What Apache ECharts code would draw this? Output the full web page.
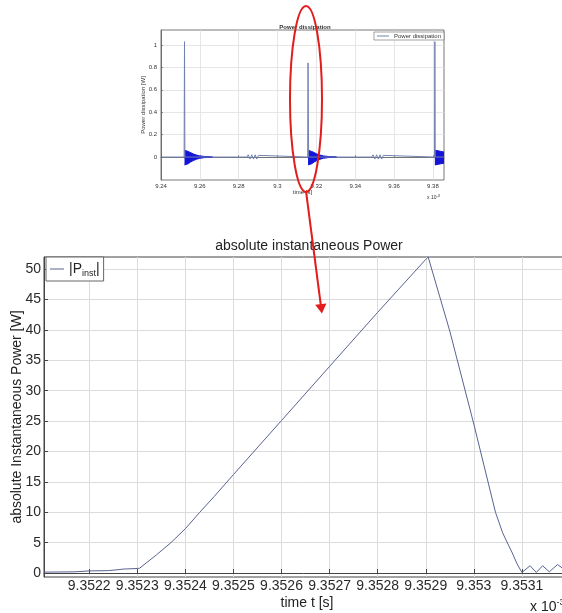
<!DOCTYPE html>
<html>
<head>
<meta charset="utf-8">
<script src="https://cdn.jsdelivr.net/npm/echarts@6/dist/echarts.min.js"></script>
<style>
  html, body { margin: 0; padding: 0; background: #ffffff; }
  #chart { width: 562px; height: 613px; }
</style>
</head>
<body>
<div id="chart"></div>
<script>
// ---- zoomed switching event: |P_inst| (W) against time (ms) ----
const mainTime = [
  9.352106, 9.35217, 9.3522, 9.35224, 9.35226, 9.35227, 9.3523, 9.352305,
  9.35234, 9.35237, 9.3524, 9.35243, 9.35246, 9.3525, 9.3526, 9.3527,
  9.3528, 9.3529, 9.352905, 9.35295, 9.3530, 9.353045, 9.35306, 9.353072,
  9.35308, 9.35309, 9.3531, 9.353117, 9.35313, 9.353143, 9.353157, 9.353174,
  9.353188, 9.3532
];
const mainPower = [
  0.15, 0.2, 0.35, 0.4, 0.55, 0.65, 0.75, 0.8,
  3.0, 5.0, 7.3, 10.0, 12.6, 16.2, 25.1, 34.0,
  42.9, 51.6, 52.0, 39.8, 24.5, 10.0, 6.6, 4.6,
  3.3, 1.5, 0.1, 1.2, 0.1, 1.2, 0.2, 1.4,
  0.6, 0.9
];
const mainXTicks = [9.3522, 9.3523, 9.3524, 9.3525, 9.3526, 9.3527, 9.3528, 9.3529, 9.353, 9.3531];
const mainYTicks = [0, 5, 10, 15, 20, 25, 30, 35, 40, 45, 50];

// ---- overview: power dissipation over three switching periods ----
const insetTime = [
  9.24, 9.2519, 9.2521, 9.2523, 9.2842, 9.2849, 9.2858, 9.2867, 9.2876, 9.2885, 9.2893, 9.2902, 9.2911,
  9.3155, 9.3157, 9.3160, 9.3485, 9.3492, 9.3501, 9.3510, 9.3519, 9.3528, 9.3536, 9.3545, 9.3553,
  9.3808, 9.3810, 9.3812, 9.3857
];
const insetPower = [
  0, 0, 1.03, 0, 0, 0.02, -0.018, 0.02, -0.018, 0.02, -0.018, 0.015, 0,
  0, 0.84, 0, 0, 0.02, -0.018, 0.02, -0.018, 0.02, -0.018, 0.015, 0,
  0, 1.03, 0, 0
];
// decaying ringing after each turn-off: upper / lower envelope
const ringTimeA = [9.2521, 9.2528, 9.2540, 9.2552, 9.2566, 9.2582, 9.2600, 9.2625, 9.2665];
const ringTimeB = [9.3157, 9.3164, 9.3176, 9.3188, 9.3202, 9.3218, 9.3236, 9.3261, 9.3304];
const ringTimeC = [9.3810, 9.3817, 9.3829, 9.3841, 9.3857];
const ringUpperA = [0.06, 0.06, 0.05, 0.04, 0.028, 0.018, 0.01, 0.005, 0.002];
const ringLowerA = [-0.07, -0.07, -0.06, -0.045, -0.032, -0.02, -0.011, -0.005, -0.002];
const ringUpperB = [0.06, 0.06, 0.05, 0.04, 0.028, 0.018, 0.01, 0.005, 0.002];
const ringLowerB = [-0.07, -0.07, -0.06, -0.045, -0.032, -0.02, -0.011, -0.005, -0.002];
const ringUpperC = [0.06, 0.06, 0.055, 0.05, 0.045];
const ringLowerC = [-0.07, -0.07, -0.065, -0.06, -0.055];
const insetXTicks = [9.24, 9.26, 9.28, 9.3, 9.32, 9.34, 9.36, 9.38];
const insetYTicks = [0, 0.2, 0.4, 0.6, 0.8, 1];

const FONT = "'Liberation Sans', Arial, sans-serif";
const pairs = (xs, ys) => xs.map((x, i) => [x, ys[i]]);

const ringSets = [
  [ringTimeA, ringUpperA], [ringTimeA, ringLowerA],
  [ringTimeB, ringUpperB], [ringTimeB, ringLowerB],
  [ringTimeC, ringUpperC], [ringTimeC, ringLowerC]
];
const ringSeries = ringSets.map(([t, v]) => ({
  name: 'ringing',
  type: 'line',
  xAxisIndex: 1, yAxisIndex: 1,
  data: pairs(t, v),
  symbol: 'none',
  lineStyle: { color: '#1414d8', width: 1 },
  areaStyle: { color: '#1414d8', opacity: 1 },
  z: 3
}));

const chart = echarts.init(document.getElementById('chart'), null, { renderer: 'canvas' });

chart.setOption({
  animation: false,
  backgroundColor: '#ffffff',
  textStyle: { fontFamily: FONT },
  title: [
    {
      text: 'Power dissipation',
      left: 300, top: 19, textAlign: 'center',
      textStyle: { fontSize: 6, fontWeight: 'bold', color: '#333', fontFamily: FONT }
    },
    {
      text: 'absolute instantaneous Power',
      left: 304, top: 234, textAlign: 'center',
      textStyle: { fontSize: 14, fontWeight: 'normal', color: '#222', fontFamily: FONT }
    }
  ],
  legend: [
    {
      data: ['Pinst'],
      left: 46, top: 257,
      orient: 'vertical',
      padding: [4, 4, 3, 4],
      itemWidth: 14, itemHeight: 1, itemGap: 0,
      icon: 'rect',
      backgroundColor: '#ffffff',
      borderColor: '#666', borderWidth: 1,
      formatter: () => '{n||P}{s|inst}{n||}',
      textStyle: {
        color: '#222', fontFamily: FONT,
        rich: {
          n: { fontSize: 14, lineHeight: 18, verticalAlign: 'middle', fontFamily: FONT, color: '#222' },
          s: { fontSize: 9, lineHeight: 18, verticalAlign: 'bottom', padding: [8, 0, 0, 0], fontFamily: FONT, color: '#222' }
        }
      }
    },
    {
      data: ['Power dissipation'],
      right: 118, top: 32,
      padding: [1, 3, 1, 3],
      itemWidth: 12, itemHeight: 1, itemGap: 0,
      icon: 'rect',
      backgroundColor: '#ffffff',
      borderColor: '#666', borderWidth: 0.6,
      textStyle: { fontSize: 6, color: '#333', fontFamily: FONT }
    }
  ],
  grid: [
    {
      left: 44, top: 257, right: -8, bottom: 36,
      outerBoundsMode: 'none', containLabel: false,
      show: true, borderColor: '#444', borderWidth: 1, backgroundColor: '#ffffff'
    },
    {
      left: 161, top: 30, right: 118, bottom: 433,
      outerBoundsMode: 'none', containLabel: false,
      show: true, borderColor: '#555', borderWidth: 0.8, backgroundColor: '#ffffff'
    }
  ],
  xAxis: [
    {
      type: 'value', gridIndex: 0,
      min: 9.352106, max: 9.3532,
      name: 'time t [s]', nameLocation: 'middle', nameGap: 19, nameMoveOverlap: false,
      nameTextStyle: { fontSize: 14, color: '#222', fontFamily: FONT },
      axisLine: { show: true, lineStyle: { color: '#444', width: 1 } },
      axisTick: { show: true, inside: true, length: 4, customValues: mainXTicks, lineStyle: { color: '#444' } },
      axisLabel: {
        customValues: mainXTicks, margin: 2, fontSize: 14, color: '#2a2a2a', fontFamily: FONT,
        formatter: v => String(+v.toFixed(4))
      },
      splitLine: { show: true, lineStyle: { color: '#dcdcdc', width: 1 } }
    },
    {
      type: 'value', gridIndex: 1,
      min: 9.24, max: 9.3857,
      name: 'time [s]', nameLocation: 'middle', nameGap: 9, nameMoveOverlap: false,
      nameTextStyle: { fontSize: 6, color: '#333', fontFamily: FONT },
      axisLine: { show: true, lineStyle: { color: '#555', width: 0.8 } },
      axisTick: { show: true, inside: true, length: 2, customValues: insetXTicks, lineStyle: { color: '#555', width: 0.6 } },
      axisLabel: {
        customValues: insetXTicks, margin: 3, fontSize: 6, color: '#333', fontFamily: FONT,
        formatter: v => String(+v.toFixed(2))
      },
      splitLine: { show: true, lineStyle: { color: '#e0e0e0', width: 0.8 } }
    }
  ],
  yAxis: [
    {
      type: 'value', gridIndex: 0,
      min: -0.65, max: 52,
      name: 'absolute Instantaneous Power [W]', nameLocation: 'middle', nameGap: 20, nameMoveOverlap: false,
      nameTextStyle: { fontSize: 14, color: '#222', fontFamily: FONT },
      axisLine: { show: true, lineStyle: { color: '#444', width: 1 } },
      axisTick: { show: true, inside: true, length: 4, customValues: mainYTicks, lineStyle: { color: '#444' } },
      axisLabel: { customValues: mainYTicks, margin: 3, fontSize: 14, color: '#2a2a2a', fontFamily: FONT },
      splitLine: { show: true, lineStyle: { color: '#dcdcdc', width: 1 } }
    },
    {
      type: 'value', gridIndex: 1,
      min: -0.205, max: 1.134,
      name: 'Power dissipation [W]', nameLocation: 'middle', nameGap: 15, nameMoveOverlap: false,
      nameTextStyle: { fontSize: 6, color: '#333', fontFamily: FONT },
      axisLine: { show: true, lineStyle: { color: '#555', width: 0.8 } },
      axisTick: { show: true, inside: true, length: 2, customValues: insetYTicks, lineStyle: { color: '#555', width: 0.6 } },
      axisLabel: { customValues: insetYTicks, margin: 4, fontSize: 6, color: '#333', fontFamily: FONT },
      splitLine: { show: true, lineStyle: { color: '#e0e0e0', width: 0.8 } }
    }
  ],
  series: [
    {
      name: 'Pinst',
      type: 'line',
      xAxisIndex: 0, yAxisIndex: 0,
      data: pairs(mainTime, mainPower),
      symbol: 'none',
      lineStyle: { color: '#5a6290', width: 1 },
      itemStyle: { color: '#5a6290' },
      z: 3
    },
    {
      name: 'Power dissipation',
      type: 'line',
      xAxisIndex: 1, yAxisIndex: 1,
      data: pairs(insetTime, insetPower),
      symbol: 'none',
      lineStyle: { color: '#7282b0', width: 1 },
      itemStyle: { color: '#7282b0' },
      z: 4
    },
    ...ringSeries
  ],
  graphic: [
    // exponent labels of the two time axes
    {
      type: 'text', left: 530, top: 598, z: 10,
      style: {
        text: '{n|x 10}{s|-3}',
        rich: {
          n: { fontSize: 14, fontFamily: FONT, fill: '#222', verticalAlign: 'bottom', lineHeight: 16 },
          s: { fontSize: 9, fontFamily: FONT, fill: '#222', verticalAlign: 'top', lineHeight: 16 }
        }
      }
    },
    {
      type: 'text', left: 427, top: 194, z: 10,
      style: {
        text: '{n|x 10}{s|-3}',
        rich: {
          n: { fontSize: 5, fontFamily: FONT, fill: '#333', verticalAlign: 'bottom', lineHeight: 6 },
          s: { fontSize: 4, fontFamily: FONT, fill: '#333', verticalAlign: 'top', lineHeight: 6 }
        }
      }
    },
    // red highlight of the zoomed event and pointer to the detail plot
    {
      type: 'ellipse', z: 20,
      shape: { cx: 306, cy: 99, rx: 16, ry: 93 },
      style: { fill: 'none', stroke: '#e31c1c', lineWidth: 2 }
    },
    {
      type: 'line', z: 20,
      shape: { x1: 306, y1: 191, x2: 320.8, y2: 305 },
      style: { stroke: '#e31c1c', lineWidth: 2 }
    },
    {
      type: 'polygon', z: 20,
      shape: { points: [[315.2, 304.8], [326.4, 303.4], [321.9, 313.5]] },
      style: { fill: '#e31c1c' }
    }
  ]
});
</script>
</body>
</html>
